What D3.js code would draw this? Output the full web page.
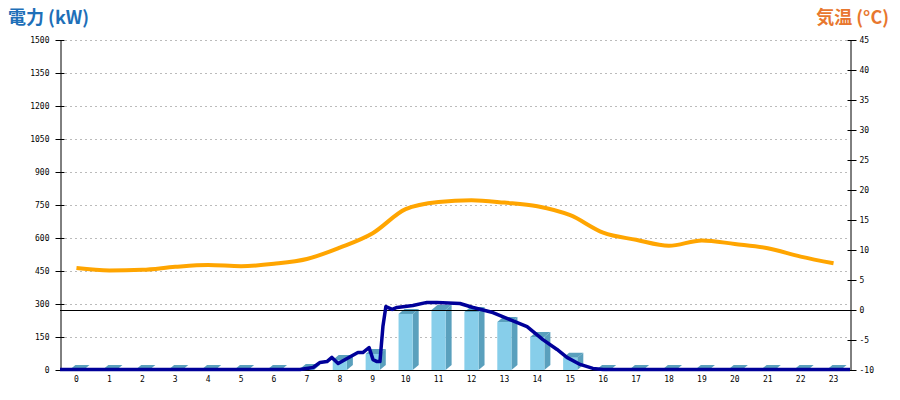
<!DOCTYPE html>
<html>
<head>
<meta charset="utf-8">
<script src="https://cdn.jsdelivr.net/npm/d3@7"></script>
<style>
  html, body { margin: 0; padding: 0; background: #fff; }
  svg { display: block; }
  .tick text { font-family: "DejaVu Sans Mono", "Liberation Mono", monospace; font-size: 8px; fill: #000; }
</style>
</head>
<body>
<svg id="chart" width="900" height="400"></svg>
<script>
// ---- data ----
const hours = [0,1,2,3,4,5,6,7,8,9,10,11,12,13,14,15,16,17,18,19,20,21,22,23];
const hourlyKW = [0,0,0,0,0,0,0,5,45,73,255,273,264,218,150,56,0,0,0,0,0,0,0,0];
const temperature = [7.0,6.6,6.7,7.2,7.5,7.3,7.7,8.5,10.4,12.8,16.8,18.0,18.3,17.9,17.3,15.8,12.9,11.7,10.7,11.6,11.0,10.3,8.9,7.8];
const powerTimes = [0,7.29,7.69,7.90,8.11,8.26,8.45,8.72,9.05,9.20,9.39,9.51,9.63,9.72,9.81,9.90,10.09,10.24,10.72,11.15,11.45,12.15,12.55,13.15,13.67,14.19,14.67,15.10,15.40,15.80,16.19,16.5,24];
const powerKW =    [0,0,9,32,36,55,27,50,77,77,100,45,36,36,195,286,273,282,291,305,305,300,282,259,227,195,136,91,55,23,5,0,0];
const leftTicks = [0,150,300,450,600,750,900,1050,1200,1350,1500];
const rightTicks = [-10,-5,0,5,10,15,20,25,30,35,40,45];

// ---- layout ----
const L = 60, R = 850, T = 40, B = 370;
const svg = d3.select("#chart");

const x = d3.scaleBand().domain(hours).range([L, R]).paddingInner(0.57).paddingOuter(0.285);
const xc = d3.scaleBand().domain(hours).range([L, R]);
const xt = d3.scaleLinear().domain([0, 24]).range([L, R]);
const yL = d3.scaleLinear().domain([0, 1500]).range([B, T]);
const yR = d3.scaleLinear().domain([-10, 45]).range([B, T]);

// grid
svg.append("g").selectAll("line").data(leftTicks.filter(d => d > 0)).join("line")
  .attr("x1", L).attr("x2", R)
  .attr("y1", d => yL(d) + 0.5).attr("y2", d => yL(d) + 0.5)
  .attr("stroke", "#bbb").attr("stroke-width", 1).attr("stroke-dasharray", "2,3");

// 3D bars
const dx = 6, dy = 5;
const bw = x.bandwidth();
const bars = svg.append("g").selectAll("g").data(hours).join("g");
// side face
bars.append("path")
  .attr("fill", "#5aa0bd")
  .attr("d", (h, i) => {
    const x0 = x(h) + bw, y0 = yL(hourlyKW[i]);
    return `M${x0},${y0} L${x0 + dx},${y0 - dy} L${x0 + dx},${B - dy} L${x0},${B} Z`;
  });
// top face
bars.append("path")
  .attr("fill", "#5aa0bd")
  .attr("d", (h, i) => {
    const x0 = x(h), y0 = yL(hourlyKW[i]);
    return `M${x0},${y0} L${x0 + dx},${y0 - dy} L${x0 + bw + dx},${y0 - dy} L${x0 + bw},${y0} Z`;
  });
// front face
bars.append("rect")
  .attr("fill", "#87ceea")
  .attr("x", h => x(h))
  .attr("y", (h, i) => yL(hourlyKW[i]))
  .attr("width", bw)
  .attr("height", (h, i) => B - yL(hourlyKW[i]));

// 0°C line and bottom line
svg.append("line").attr("x1", L).attr("x2", R).attr("y1", yR(0) + 0.5).attr("y2", yR(0) + 0.5)
  .attr("stroke", "#000").attr("stroke-width", 1);
svg.append("line").attr("x1", L).attr("x2", R).attr("y1", B + 0.5).attr("y2", B + 0.5)
  .attr("stroke", "#000").attr("stroke-width", 1);

// left axis
const gl = svg.append("g").attr("transform", `translate(${L + 0.5},0)`)
  .call(d3.axisLeft(yL).tickValues(leftTicks).tickSizeInner(5).tickSizeOuter(0).tickPadding(6).tickFormat(d => String(d)));
gl.select(".domain").attr("stroke", "#000");
gl.selectAll(".tick line").attr("x1", 4).attr("stroke", "#000");

// right axis
const gr = svg.append("g").attr("transform", `translate(${R + 0.5},0)`)
  .call(d3.axisRight(yR).tickValues(rightTicks).tickSizeInner(6).tickSizeOuter(0).tickPadding(3).tickFormat(d => String(d)));
gr.select(".domain").attr("stroke", "#000");
gr.selectAll(".tick line").attr("x1", -3).attr("stroke", "#000");

// x labels
const gx = svg.append("g").attr("transform", `translate(0,${B + 4})`)
  .call(d3.axisBottom(xc).tickValues(hours).tickSize(0).tickPadding(2).tickFormat(d => String(d)));
gx.select(".domain").remove();

// temperature line
svg.append("path")
  .datum(temperature)
  .attr("fill", "none").attr("stroke", "#ffa500").attr("stroke-width", 4)
  .attr("d", d3.line().x((d, i) => xc(hours[i]) + xc.bandwidth() / 2).y(d => yR(d)).curve(d3.curveMonotoneX));

// power line
svg.append("path")
  .datum(powerKW)
  .attr("fill", "none").attr("stroke", "#000099").attr("stroke-width", 3.5).attr("stroke-linejoin", "round")
  .attr("d", d3.line().x((d, i) => xt(powerTimes[i])).y(d => yL(d) - 0.5));

// titles
svg.append("text").attr("x", 8).attr("y", 24)
  .attr("font-family", "'Noto Sans CJK JP', 'Noto Sans', sans-serif").attr("font-weight", "bold").attr("font-size", 18)
  .attr("fill", "#1e6fb8").text("電力 (kW)");
svg.append("text").attr("x", 889).attr("y", 24).attr("text-anchor", "end")
  .attr("font-family", "'Noto Sans CJK JP', 'Noto Sans', sans-serif").attr("font-weight", "bold").attr("font-size", 18)
  .attr("fill", "#e8772e").text("気温 (°C)");
</script>
</body>
</html>
